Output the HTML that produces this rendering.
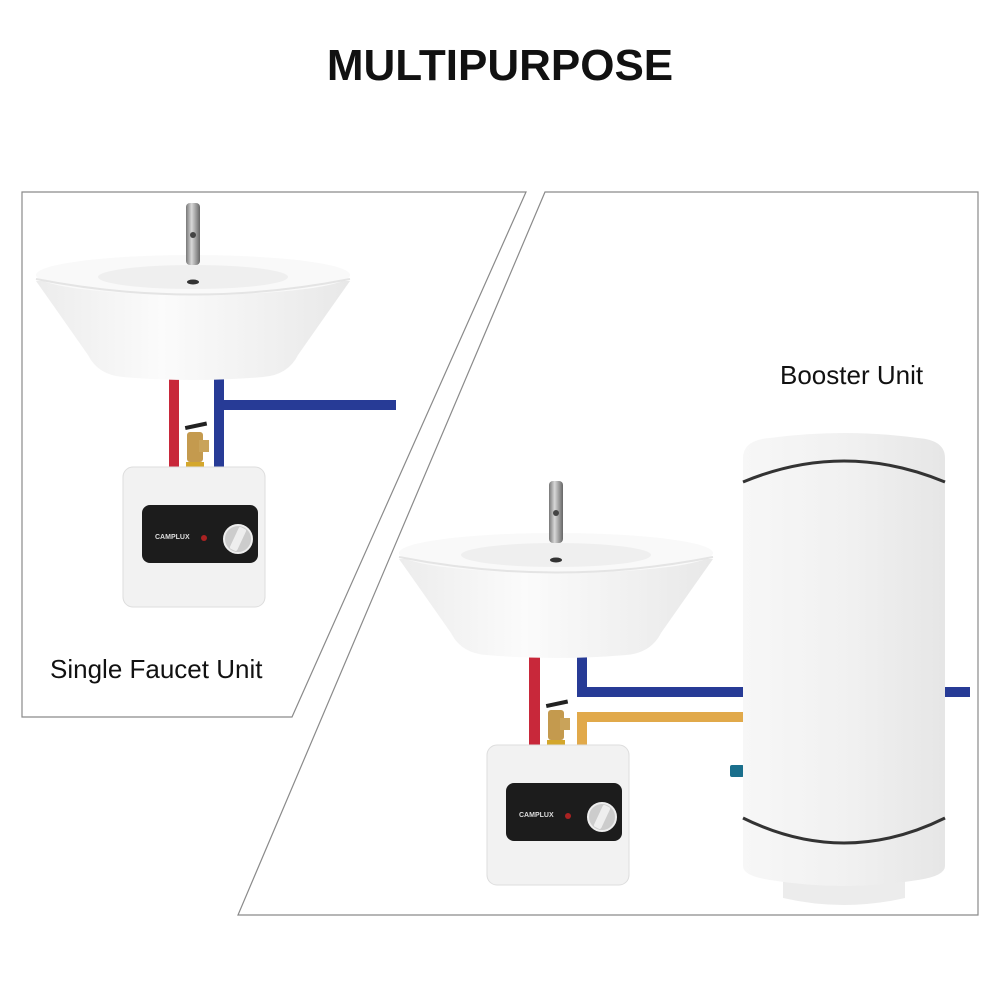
<!DOCTYPE html>
<html><head><meta charset="utf-8"><style>html,body{margin:0;padding:0;background:#fff}svg{display:block}</style></head>
<body>
<svg width="1000" height="1000" viewBox="0 0 1000 1000" xmlns="http://www.w3.org/2000/svg">
<defs>
<linearGradient id="bowl" x1="0" y1="0" x2="1" y2="0"><stop offset="0" stop-color="#ececec"/><stop offset="0.4" stop-color="#fbfbfb"/><stop offset="1" stop-color="#e8e8e8"/></linearGradient>
<linearGradient id="tank" x1="0" y1="0" x2="1" y2="0"><stop offset="0" stop-color="#f7f7f7"/><stop offset="0.5" stop-color="#f1f1f1"/><stop offset="1" stop-color="#e6e6e6"/></linearGradient>
<linearGradient id="chrome" x1="0" y1="0" x2="1" y2="0"><stop offset="0" stop-color="#777"/><stop offset="0.4" stop-color="#d8d8d8"/><stop offset="1" stop-color="#666"/></linearGradient>
<g id="sink">
<path d="M-157,6 Q-140,30 -105,80 Q-95,100 -70,102 Q0,108 70,102 Q95,100 105,80 Q140,30 157,6 Z" fill="url(#bowl)"/>
<ellipse cx="0" cy="0" rx="157" ry="20" fill="#f9f9f9"/>
<path d="M-157,4 Q0,35 157,4" fill="none" stroke="#e4e4e4" stroke-width="2"/>
<ellipse cx="0" cy="2" rx="95" ry="12" fill="#efefef"/>
<ellipse cx="0" cy="7" rx="6" ry="2.5" fill="#333"/>
<rect x="-7" y="-72" width="14" height="62" rx="4" fill="url(#chrome)"/>
<circle cx="0" cy="-40" r="3" fill="#444"/>
</g>
<g id="heater">
<rect x="0" y="0" width="142" height="140" rx="10" fill="#f2f2f2" stroke="#ddd"/>
<rect x="19" y="38" width="116" height="58" rx="8" fill="#1c1c1c"/>
<text x="32" y="72" font-family="Liberation Sans,sans-serif" font-size="7" font-weight="bold" fill="#ddd">CAMPLUX</text>
<circle cx="81" cy="71" r="3" fill="#a22"/>
<circle cx="115" cy="72" r="14" fill="#ccc" stroke="#eee" stroke-width="2"/>
<rect x="111" y="60" width="8" height="24" rx="2" fill="#eee" transform="rotate(25 115 72)"/>
</g>
<g id="valve">
<rect x="-8" y="0" width="16" height="30" rx="3" fill="#c49a4e"/>
<rect x="4" y="8" width="10" height="12" fill="#c9a35a"/>
<rect x="-10" y="-8" width="22" height="4" fill="#222" transform="rotate(-12 0 -6)"/>
<rect x="-9" y="30" width="18" height="8" fill="#d4a72c"/>
</g>
</defs>
<text x="500" y="80" text-anchor="middle" font-family="Liberation Sans,sans-serif" font-weight="bold" font-size="44" fill="#111">MULTIPURPOSE</text>
<g stroke="#8a8a8a" stroke-width="1.2" fill="none">
<path d="M526,192 L22,192 L22,717 L292,717 Z" />
<path d="M545,192 L978,192 L978,915 L238,915 Z"/>
</g>
<!-- left -->
<rect x="169" y="378" width="10" height="92" fill="#c8283a"/>
<rect x="214" y="378" width="10" height="92" fill="#273b96"/>
<rect x="214" y="400" width="182" height="10" fill="#273b96"/>
<use href="#valve" x="195" y="432"/>
<use href="#sink" x="193" y="275"/>
<use href="#heater" x="123" y="467"/>
<text x="50" y="678" font-family="Liberation Sans,sans-serif" font-size="26" fill="#111">Single Faucet Unit</text>
<!-- right -->
<text x="780" y="384" font-family="Liberation Sans,sans-serif" font-size="26" fill="#111">Booster Unit</text>
<rect x="529" y="655" width="11" height="92" fill="#c8283a"/>
<rect x="577" y="655" width="10" height="42" fill="#273b96"/>
<rect x="577" y="687" width="170" height="10" fill="#273b96"/>
<rect x="940" y="687" width="30" height="10" fill="#273b96"/>
<rect x="577" y="712" width="170" height="10" fill="#e1a94a"/>
<rect x="577" y="712" width="10" height="35" fill="#e1a94a"/>
<rect x="730" y="765" width="14" height="12" rx="2" fill="#1a6f8c"/>
<use href="#valve" x="556" y="710"/>
<use href="#sink" x="556" y="553"/>
<use href="#heater" x="487" y="745"/>
<!-- tank -->
<path d="M783,860 L905,860 L905,898 Q844,912 783,898 Z" fill="#ececec"/>
<path d="M743,458 Q743,440 770,438 Q844,428 918,438 Q945,440 945,458 L945,866 Q945,876 918,880 Q844,892 770,880 Q743,876 743,866 Z" fill="url(#tank)"/>
<path d="M743,482 Q844,440 945,482" stroke="#333" stroke-width="3" fill="none"/>
<path d="M743,818 Q844,868 945,818" stroke="#333" stroke-width="3" fill="none"/>
</svg>
</body></html>
